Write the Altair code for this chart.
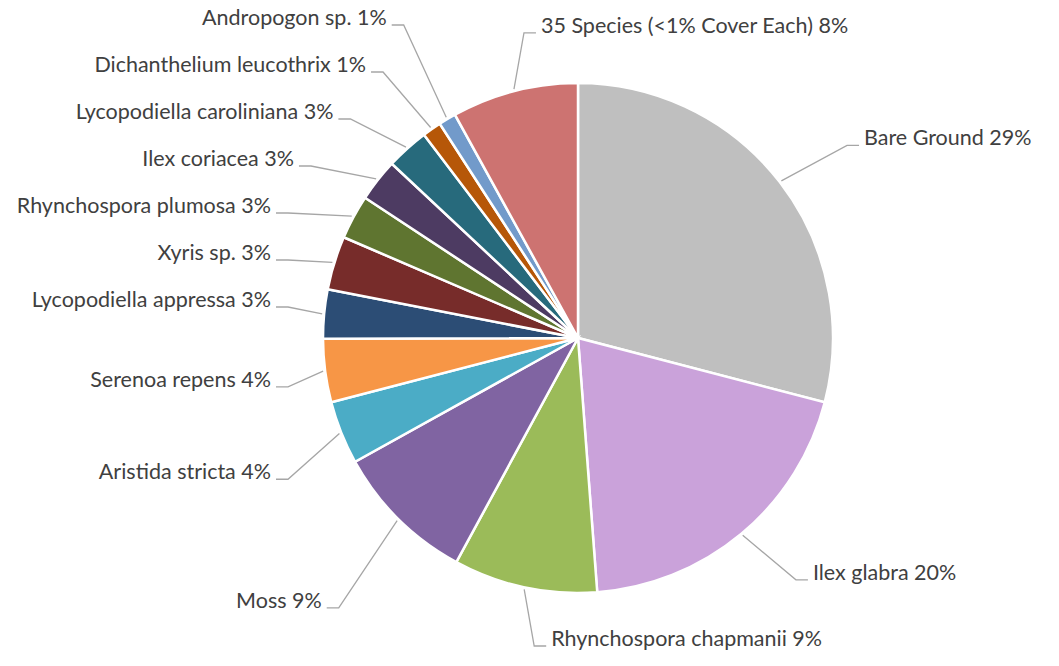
import math
import altair as alt
import pandas as pd

# ---- data ----
names = [
    "Bare Ground", "Ilex glabra", "Rhynchospora chapmanii", "Moss",
    "Aristida stricta", "Serenoa repens", "Lycopodiella appressa", "Xyris sp.",
    "Rhynchospora plumosa", "Ilex coriacea", "Lycopodiella caroliniana",
    "Dichanthelium leucothrix", "Andropogon sp.", "35 Species (<1% Cover Each)",
]
cover = [29.0, 19.7, 9.1, 9.0, 4.0, 4.0, 3.1, 3.4, 2.8, 2.7, 2.7, 1.2, 1.1, 8.0]
colors = [
    "#BFBFBF", "#CAA2DA", "#9BBB59", "#8064A2", "#4BACC6", "#F79646", "#2C4D75",
    "#772C2A", "#5F7530", "#4D3B62", "#276A7C", "#B65708", "#729ACA", "#CD7371",
]

# ---- layout constants (chart coordinates) ----
W, H = 1043, 650
CX, CY, R = 570, 330, 255
TOP = 17
GAP = 47

total = sum(cover)
arc_rows, line_rows, text_rows = [], [], []
info = []
cum = 0.0
for i, (n, v) in enumerate(zip(names, cover)):
    mid = (cum + v / 2) / total * 2 * math.pi
    cum += v
    s, c = math.sin(mid), math.cos(mid)
    side = 1 if s > -0.3 else -1
    pct = round(v / total * 100)
    sx, sy = CX + (R + 2) * s, CY - (R + 2) * c
    if side == 1:
        y = CY - 315 * c
    else:
        y = CY - 380 * c
    info.append(dict(i=i, name=n, s=s, c=c, side=side, sx=sx, sy=sy, y=y,
                     label=f"{n} {pct}%"))
    arc_rows.append(dict(name=n, cover=v, i=i, cx=CX, cy=CY))

# resolve overlaps of left-side labels (top to bottom)
left = sorted([d for d in info if d["side"] == -1], key=lambda d: d["y"])
prev = None
for d in left:
    y = max(d["y"], TOP) if prev is None else max(d["y"], prev + GAP)
    d["y"] = y
    prev = y

for d in info:
    if d["side"] == -1:
        xe = min(max(CX + 340 * d["s"], CX - 290), d["sx"] - 10)
    else:
        xe = max(CX + 340 * d["s"], d["sx"] + 10)
    xend = xe + d["side"] * 12
    pts = [(d["sx"], d["sy"]), (xe, d["y"]), (xend, d["y"])]
    for k, (px, py) in enumerate(pts):
        line_rows.append(dict(name=d["name"], k=k, x=px, y=py))
    text_rows.append(dict(name=d["name"], label=d["label"], x=xend + d["side"] * 5,
                          y=d["y"], side=d["side"]))

arc_df = pd.DataFrame(arc_rows)
line_df = pd.DataFrame(line_rows)
text_df = pd.DataFrame(text_rows)

xs = alt.Scale(domain=[0, W], range=[0, W], nice=False, zero=False)
ys = alt.Scale(domain=[0, H], range=[0, H], nice=False, zero=False)

pie = alt.Chart(arc_df).mark_arc(outerRadius=R, stroke="white", strokeWidth=2.5).encode(
    theta=alt.Theta("cover:Q", stack=True),
    order=alt.Order("i:Q"),
    color=alt.Color("name:N", scale=alt.Scale(domain=names, range=colors), legend=None),
    x=alt.X("cx:Q", scale=xs, axis=None),
    y=alt.Y("cy:Q", scale=ys, axis=None),
)

leaders = alt.Chart(line_df).mark_line(color="#A6A6A6", strokeWidth=1.3).encode(
    x=alt.X("x:Q", scale=xs, axis=None),
    y=alt.Y("y:Q", scale=ys, axis=None),
    detail="name:N",
    order="k:Q",
)

text_common = dict(font="Lato", fontSize=21.5, color="#404040", baseline="alphabetic")
labels_right = alt.Chart(text_df).transform_filter("datum.side == 1").mark_text(
    align="left", **text_common
).encode(
    x=alt.X("x:Q", scale=xs, axis=None),
    y=alt.Y("y:Q", scale=ys, axis=None),
    text="label:N",
)
labels_left = alt.Chart(text_df).transform_filter("datum.side == -1").mark_text(
    align="right", **text_common
).encode(
    x=alt.X("x:Q", scale=xs, axis=None),
    y=alt.Y("y:Q", scale=ys, axis=None),
    text="label:N",
)

chart = alt.layer(pie, leaders, labels_right, labels_left).properties(
    width=W, height=H, autosize=alt.AutoSizeParams(type="none"), padding=0,
    background="white",
).configure_view(stroke=None)

chart.save("out.html", embed_options={"renderer": "svg", "actions": False})
